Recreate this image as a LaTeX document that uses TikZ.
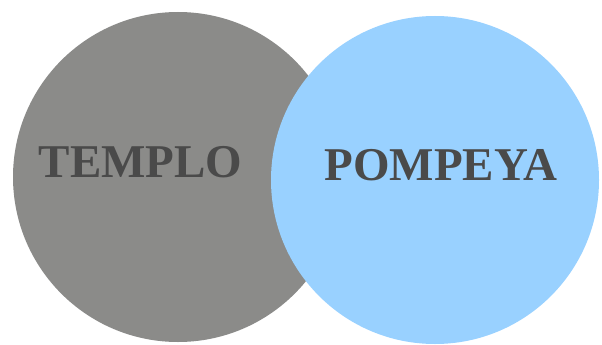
\documentclass[tikz,border=0pt]{standalone}
\usepackage{fontspec}
\setmainfont{Liberation Serif}
\definecolor{grayfill}{RGB}{139,139,137}
\definecolor{bluefill}{RGB}{153,209,255}
\definecolor{txtdark}{RGB}{74,74,74}
\tikzset{
  lbl/.style={font=\fontsize{47}{47}\selectfont\bfseries, text=txtdark, anchor=base, inner sep=0pt}
}
\begin{document}
\begin{tikzpicture}[x=1pt,y=-1pt]
\useasboundingbox (0,0) rectangle (602,345);
\fill[white] (0,0) rectangle (602,345);
\fill[grayfill] (178,177) circle[radius=165];
\fill[bluefill] (435,180) circle[radius=164];
\node[lbl] (templo) at (140.5,177) {TEMPLO};
\node[lbl] (pompeya) at (441,180) {POMPEYA};
\end{tikzpicture}
\end{document}
